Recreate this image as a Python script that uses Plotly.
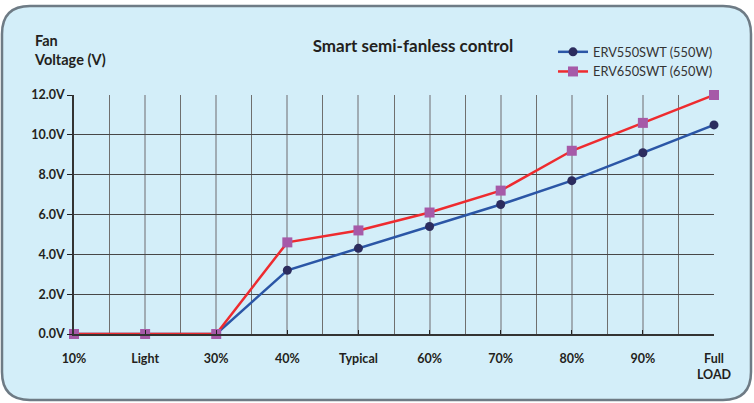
import plotly.graph_objects as go

categories = ["10%", "Light", "30%", "40%", "Typical", "60%", "70%", "80%", "90%", "Full<br>LOAD"]
erv550 = [0, 0, 0, 3.2, 4.3, 5.4, 6.5, 7.7, 9.1, 10.5]
erv650 = [0, 0, 0, 4.6, 5.2, 6.1, 7.2, 9.2, 10.6, 12.0]
y_ticks = [0, 2, 4, 6, 8, 10, 12]
y_tick_labels = ["0.0V", "2.0V", "4.0V", "6.0V", "8.0V", "10.0V", "12.0V"]

W, H = 754, 403
L, R, T, B = 74, 40, 95, 69
pw, ph = W - L - R, H - T - B

def px(x):
    return (x - L) / pw

def py(y):
    return (H - B - y) / ph

xs = list(range(len(categories)))

fig = go.Figure()
fig.add_trace(go.Scatter(
    x=xs, y=erv550, name="ERV550SWT (550W)", mode="lines+markers",
    line=dict(color="#2b56a6", width=2.5),
    marker=dict(symbol="circle", size=9, color="#2c2c5e"),
    cliponaxis=False,
))
fig.add_trace(go.Scatter(
    x=xs, y=erv650, name="ERV650SWT (650W)", mode="lines+markers",
    line=dict(color="#ee2b2f", width=2.5),
    marker=dict(symbol="square", size=10, color="#a65aa8"),
    cliponaxis=False,
))

# rounded background panel
x0, x1, y0, y1, r = 2, 751, 6, 400, 28
path = (f"M {px(x0+r)},{py(y0)} L {px(x1-r)},{py(y0)} Q {px(x1)},{py(y0)} {px(x1)},{py(y0+r)} "
        f"L {px(x1)},{py(y1-r)} Q {px(x1)},{py(y1)} {px(x1-r)},{py(y1)} "
        f"L {px(x0+r)},{py(y1)} Q {px(x0)},{py(y1)} {px(x0)},{py(y1-r)} "
        f"L {px(x0)},{py(y0+r)} Q {px(x0)},{py(y0)} {px(x0+r)},{py(y0)} Z")
fig.add_shape(type="path", path=path, xref="paper", yref="paper", layer="below",
              fillcolor="#d3eef9", line=dict(color="#6e7b85", width=2.5))

font_family = "Lato, 'Open Sans', sans-serif"

fig.add_annotation(text="<b>Fan<br>Voltage (V)</b>", x=px(32), y=py(30), xref="paper", yref="paper",
                   xanchor="left", yanchor="top", align="left", showarrow=False,
                   font=dict(size=14.5, color="#231f20", family=font_family))

fig.update_layout(
    width=W, height=H,
    margin=dict(l=L, r=R, t=T, b=B),
    paper_bgcolor="white",
    plot_bgcolor="rgba(0,0,0,0)",
    font=dict(family=font_family, color="#231f20"),
    title=dict(text="<b>Smart semi-fanless control</b>", x=px(413), xref="paper", xanchor="center",
               y=1 - 46 / H, yanchor="middle", font=dict(size=17, color="#231f20")),
    legend=dict(x=px(553), y=py(37), xanchor="left", yanchor="top", bgcolor="rgba(0,0,0,0)",
                font=dict(size=12.8, color="#333333"), itemwidth=30, tracegroupgap=2),
    xaxis=dict(
        range=[0, 9], tickvals=xs, ticktext=[f"<b>{c}</b>" for c in categories],
        showgrid=True, gridcolor="#a0acb4", gridwidth=1.5,
        minor=dict(tick0=0.5, dtick=1, showgrid=True, gridcolor="#6f6f6f", gridwidth=1),
        showline=True, linecolor="#333333", linewidth=1.5,
        ticks="inside", ticklen=4, tickcolor="#222222",
        tickfont=dict(size=12.5, color="#231f20"), ticklabelstandoff=12,
        zeroline=False, fixedrange=True,
    ),
    yaxis=dict(
        range=[0, 12], tickvals=y_ticks, ticktext=[f"<b>{t}</b>" for t in y_tick_labels],
        showgrid=True, gridcolor="#474747", gridwidth=1.2,
        showline=True, linecolor="#333333", linewidth=1.5,
        ticks="outside", ticklen=5, tickcolor="#222222",
        tickfont=dict(size=12.5, color="#231f20"),
        zeroline=False, fixedrange=True,
    ),
)

fig.write_html("out.html", config={"displayModeBar": False},
               post_script="document.body.style.margin='0';document.body.style.overflow='hidden';")
